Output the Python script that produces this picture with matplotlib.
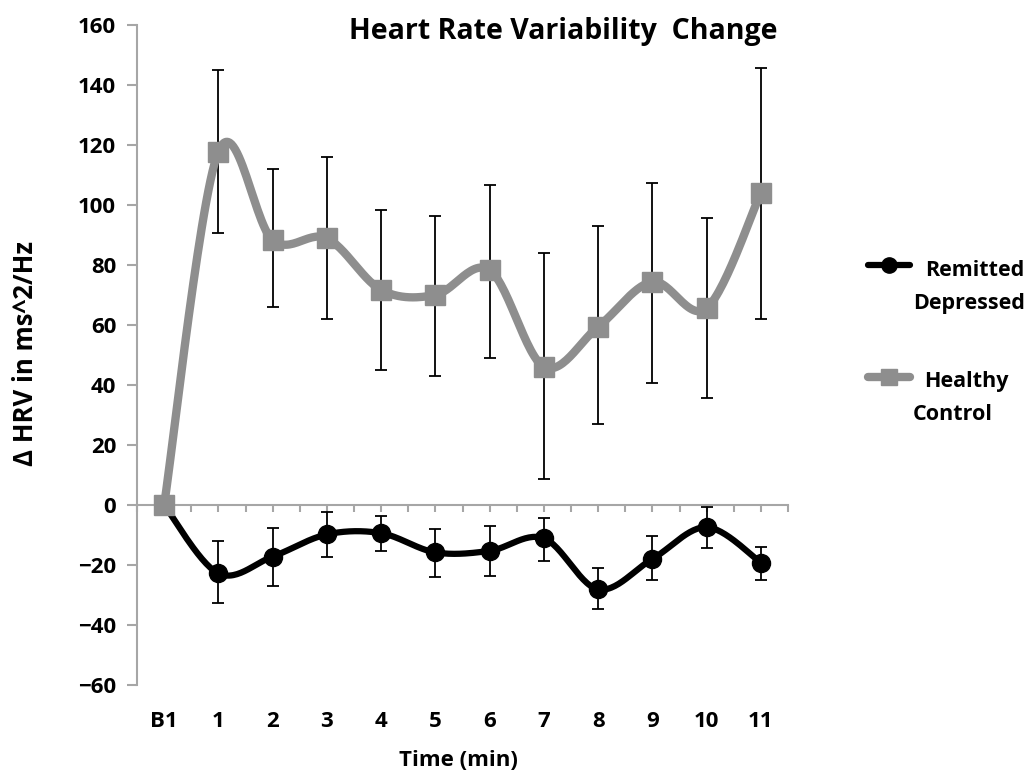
import matplotlib.pyplot as plt
import matplotlib.transforms as mtransforms
from matplotlib.lines import Line2D
import numpy as np

plt.rcParams['font.family'] = ['Open Sans', 'DejaVu Sans']
plt.rcParams['font.weight'] = 'bold'

categories = ['B1', '1', '2', '3', '4', '5', '6', '7', '8', '9', '10', '11']

# Healthy control: mean, bar top, bar bottom
hc_mean = [0, 117.8, 88.3, 88.9, 71.7, 70.0, 78.3, 46.1, 59.4, 74.4, 65.6, 104.1]
hc_top = [0, 145.0, 111.9, 115.9, 98.3, 96.3, 106.7, 83.9, 93.0, 107.4, 95.8, 145.6]
hc_bot = [0, 90.6, 65.9, 62.0, 45.0, 43.0, 49.0, 8.6, 27.0, 40.8, 35.6, 62.0]

# Remitted depressed
rd_mean = [0, -22.8, -17.2, -9.8, -9.4, -15.8, -15.3, -11.1, -28.1, -18.0, -7.4, -19.2]
rd_top = [0, -12.0, -7.6, -2.2, -3.7, -8.1, -7.0, -4.4, -21.1, -10.2, -0.6, -14.1]
rd_bot = [0, -32.8, -26.9, -17.2, -15.2, -24.1, -23.6, -18.6, -34.7, -25.0, -14.4, -25.0]

GRAY = '#8e8e8e'
AXC = '#a6a6a6'


def smooth(x, y, n=30):
    # bezier smoothing like the spreadsheet "smoothed line"
    x = np.asarray(x, float)
    y = np.asarray(y, float)
    px = np.concatenate([[x[0]], x, [x[-1]]])
    py = np.concatenate([[y[0]], y, [y[-1]]])
    xs, ys = [], []
    t = np.linspace(0, 1, n)
    for i in range(1, len(px) - 2):
        p0 = np.array([px[i], py[i]])
        p3 = np.array([px[i + 1], py[i + 1]])
        c1 = p0 + (np.array([px[i + 1], py[i + 1]]) - np.array([px[i - 1], py[i - 1]])) / 6
        c2 = p3 - (np.array([px[i + 2], py[i + 2]]) - np.array([px[i], py[i]])) / 6
        b = ((1 - t) ** 3)[:, None] * p0 + (3 * (1 - t) ** 2 * t)[:, None] * c1 \
            + (3 * (1 - t) * t ** 2)[:, None] * c2 + (t ** 3)[:, None] * p3
        xs.extend(b[:, 0])
        ys.extend(b[:, 1])
    return xs, ys


fig = plt.figure(figsize=(10.33, 7.73), dpi=100)
ax = fig.add_axes([137 / 1033, 1 - 685 / 773, 651 / 1033, 660 / 773])

x = np.arange(len(categories))

# error bars (under the markers)
rd_err = [np.array(rd_mean) - np.array(rd_bot), np.array(rd_top) - np.array(rd_mean)]
hc_err = [np.array(hc_mean) - np.array(hc_bot), np.array(hc_top) - np.array(hc_mean)]
ax.errorbar(x[1:], rd_mean[1:], yerr=[e[1:] for e in rd_err], fmt='none',
            ecolor='black', elinewidth=1.3, capsize=4.5, capthick=1.3, zorder=2)
ax.errorbar(x[1:], hc_mean[1:], yerr=[e[1:] for e in hc_err], fmt='none',
            ecolor='black', elinewidth=1.3, capsize=4.5, capthick=1.3, zorder=2)

sx, sy = smooth(x, rd_mean)
ax.plot(sx, sy, color='black', lw=4.5, solid_capstyle='round', zorder=3)
ax.plot(x, rd_mean, 'o', color='black', ms=13, zorder=4)

sx, sy = smooth(x, hc_mean)
ax.plot(sx, sy, color=GRAY, lw=6, solid_capstyle='round', zorder=5)
ax.plot(x, hc_mean, 's', color=GRAY, ms=14, zorder=6)

ax.set_xlim(-0.5, 11.5)
ax.set_ylim(-60, 160)
ax.set_yticks(np.arange(-60, 161, 20))
ax.set_xticks(np.arange(-0.5, 11.6, 0.5))
ax.set_xticklabels([])

ax.spines['top'].set_visible(False)
ax.spines['right'].set_visible(False)
ax.spines['bottom'].set_position(('data', 0))
for s in ['left', 'bottom']:
    ax.spines[s].set_color(AXC)
    ax.spines[s].set_linewidth(1.5)

ax.tick_params(axis='y', direction='out', length=7, width=1.5, color=AXC,
               labelsize=16, pad=8)
ax.tick_params(axis='x', direction='out', length=5, width=1.5, color=AXC)
for lab in ax.get_yticklabels():
    lab.set_fontweight('bold')

# category labels at the bottom of the plot
trans = mtransforms.blended_transform_factory(ax.transData, ax.transAxes)
for i, c in enumerate(categories):
    ax.text(i, -0.056, c, transform=trans, ha='center', va='center',
            fontsize=16, fontweight='bold')

fig.text(563 / 1033, 1 - 32 / 773, 'Heart Rate Variability  Change',
         ha='center', va='center', fontsize=20.5, fontweight='bold')
fig.text(458 / 1033, 1 - 760 / 773, 'Time (min)', ha='center', va='center',
         fontsize=16, fontweight='bold')
fig.text(26 / 1033, 1 - 354 / 773, 'Δ HRV in ms^2/Hz', ha='center', va='center',
         rotation=90, fontsize=18.5, fontweight='bold')

# legend
fig.add_artist(Line2D([868 / 1033, 910 / 1033], [1 - 265 / 773] * 2, color='black',
                      lw=4.5, solid_capstyle='round'))
fig.add_artist(Line2D([889 / 1033], [1 - 265 / 773], marker='o', color='black', ms=11))
fig.text(925 / 1033, 1 - 271 / 773, 'Remitted', ha='left', va='center',
         fontsize=15.5, fontweight='bold')
fig.text(913 / 1033, 1 - 303 / 773, 'Depressed', ha='left', va='center',
         fontsize=15.5, fontweight='bold')

fig.add_artist(Line2D([868 / 1033, 910 / 1033], [1 - 377 / 773] * 2, color=GRAY,
                      lw=6, solid_capstyle='round'))
fig.add_artist(Line2D([889 / 1033], [1 - 377 / 773], marker='s', color=GRAY, ms=12))
fig.text(924 / 1033, 1 - 382 / 773, 'Healthy', ha='left', va='center',
         fontsize=15.5, fontweight='bold')
fig.text(913 / 1033, 1 - 414 / 773, 'Control', ha='left', va='center',
         fontsize=15.5, fontweight='bold')

fig.savefig('out.png', dpi=100)
